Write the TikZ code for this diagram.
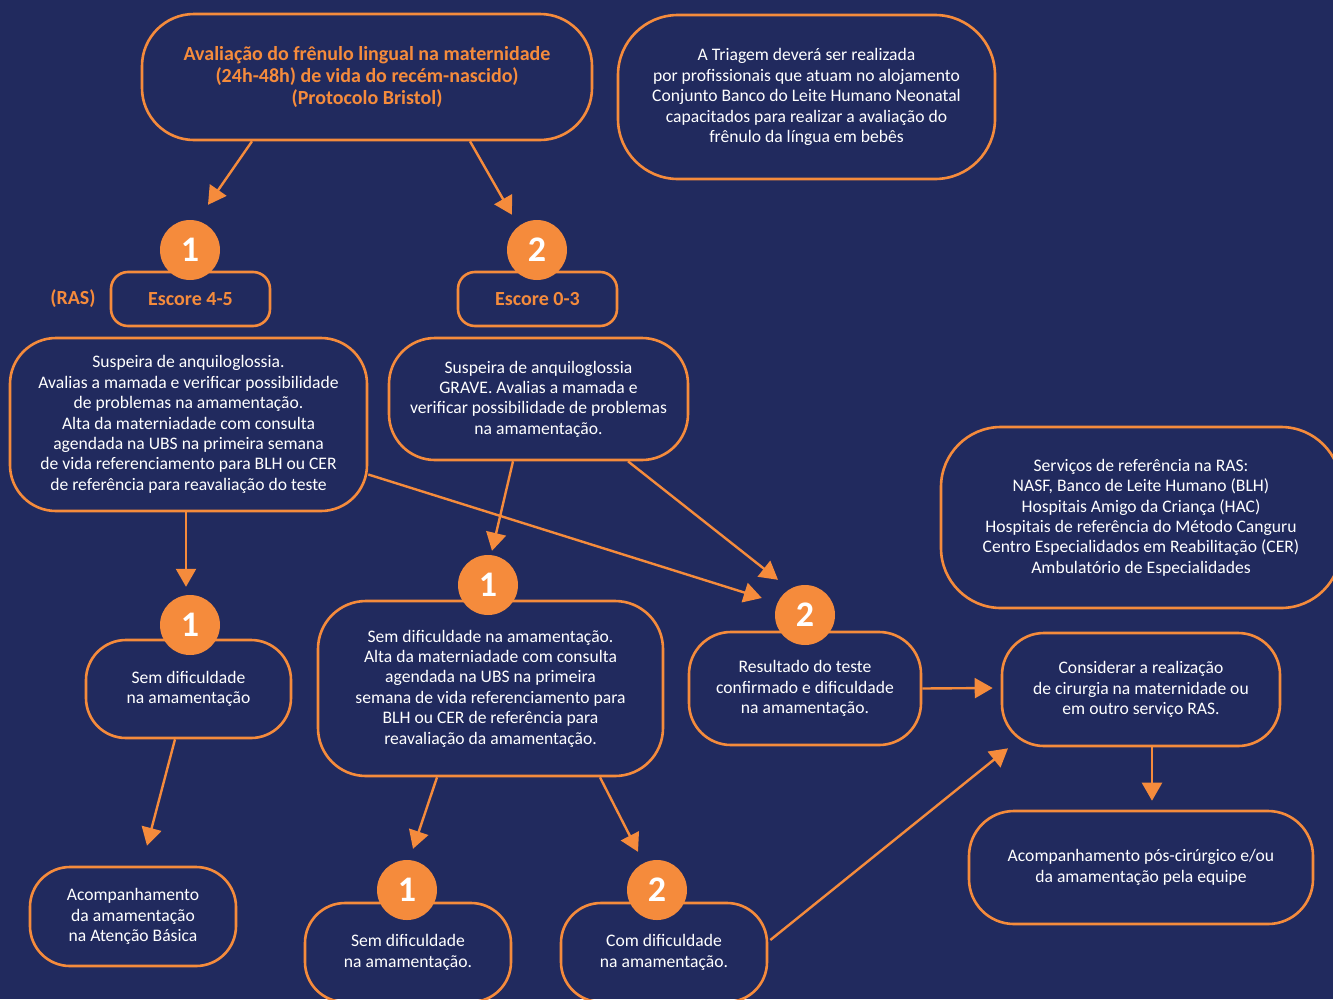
\documentclass[tikz,border=0pt]{standalone}
\usepackage{fontspec}
\setmainfont{Carlito}
\usetikzlibrary{arrows.meta,calc}
\definecolor{navy}{RGB}{33,42,94}
\definecolor{org}{RGB}{245,139,60}
\tikzset{
  box/.style={draw=org, line width=2.6pt, align=center, text=white,
    font=\fontsize{17.6}{20.4}\selectfont, inner sep=0pt},
  tbox/.style={box, text=org, font=\bfseries\fontsize{20}{21.6}\selectfont},
  num/.style={circle, fill=org, minimum size=60pt, inner sep=0pt, text=white,
    font=\bfseries\fontsize{36}{36}\selectfont},
  arr/.style={draw=org, line width=2.4pt, -{Triangle[length=18pt,width=20pt]}},
}
\begin{document}
\begin{tikzpicture}[x=1pt,y=-1pt]
\useasboundingbox (0,0) rectangle (1333,999);
\fill[navy] (0,0) rectangle (1333,999);
\clip (0,0) rectangle (1333,999);

% boxes
\node[tbox, rounded corners=52pt, minimum width=450pt, minimum height=126pt] (top) at (367,77)
  {Avaliação do frênulo lingual na maternidade\\(24h-48h) de vida do recém-nascido)\\(Protocolo Bristol)};
\node[box, rounded corners=60pt, minimum width=377pt, minimum height=164pt] (tri) at (806.5,97)
  {A Triagem deverá ser realizada\\por profissionais que atuam no alojamento\\Conjunto Banco do Leite Humano Neonatal\\capacitados para realizar a avaliação do\\frênulo da língua em bebês};
\node[tbox, rounded corners=17pt, minimum width=159pt, minimum height=54pt] (esc1) at (190.5,299) {Escore 4-5};
\node[tbox, rounded corners=17pt, minimum width=159pt, minimum height=54pt] (esc2) at (537.5,299) {Escore 0-3};
\node[text=org, font=\bfseries\fontsize{20}{21.6}\selectfont] (ras) at (73,299) {(RAS)};
\node[box, rounded corners=46pt, minimum width=357pt, minimum height=173pt] (left) at (188.5,424.5)
  {Suspeira de anquiloglossia.\\Avalias a mamada e verificar possibilidade\\de problemas na amamentação.\\Alta da materniadade com consulta\\agendada na UBS na primeira semana\\de vida referenciamento para BLH ou CER\\de referência para reavaliação do teste};
\node[box, rounded corners=46pt, minimum width=299pt, minimum height=122pt] (mid) at (538.5,399)
  {Suspeira de anquiloglossia\\GRAVE. Avalias a mamada e\\verificar possibilidade de problemas\\na amamentação.};
\node[box, rounded corners=40pt, minimum width=205pt, minimum height=98pt] (sem1) at (188.5,689)
  {Sem dificuldade\\na amamentação};
\node[box, rounded corners=48pt, minimum width=345pt, minimum height=175pt] (semmid) at (490.5,688.5)
  {Sem dificuldade na amamentação.\\Alta da materniadade com consulta\\agendada na UBS na primeira\\semana de vida referenciamento para\\BLH ou CER de referência para\\reavaliação da amamentação.};
\node[box, rounded corners=42pt, minimum width=232pt, minimum height=113pt] (res) at (805,688.5)
  {Resultado do teste\\confirmado e dificuldade\\na amamentação.};
\node[box, rounded corners=60pt, minimum width=400pt, minimum height=181pt] (serv) at (1141,517.5)
  {Serviços de referência na RAS:\\NASF, Banco de Leite Humano (BLH)\\Hospitais Amigo da Criança (HAC)\\Hospitais de referência do Método Canguru\\Centro Especialidados em Reabilitação (CER)\\Ambulatório de Especialidades};
\node[box, rounded corners=42pt, minimum width=278pt, minimum height=113pt] (cons) at (1141,689.5)
  {Considerar a realização\\de cirurgia na maternidade ou\\em outro serviço RAS.};
\node[box, rounded corners=45pt, minimum width=344pt, minimum height=113pt] (pos) at (1141,867.5)
  {Acompanhamento pós-cirúrgico e/ou\\da amamentação pela equipe};
\node[box, rounded corners=40pt, minimum width=206pt, minimum height=99pt] (acomp) at (133,916.5)
  {Acompanhamento\\da amamentação\\na Atenção Básica};
\node[box, rounded corners=40pt, minimum width=206pt, minimum height=99pt] (b1) at (408,952.5)
  {Sem dificuldade\\na amamentação.};
\node[box, rounded corners=40pt, minimum width=206pt, minimum height=99pt] (b2) at (664,952.5)
  {Com dificuldade\\na amamentação.};

% number circles
\node[num] (c1a) at (190,250) {1};
\node[num] (c2a) at (537,250) {2};
\node[num] (c1b) at (190,625) {1};
\node[num] (c1c) at (488,585) {1};
\node[num] (c2b) at (805,615) {2};
\node[num] (c1d) at (407,890) {1};
\node[num] (c2d) at (657,890) {2};

% arrows
\draw[arr] ($(top.south)+(-115,0)$) -- ($(c1a.north)+(18,-15)$);
\draw[arr] ($(top.south)+(103,0)$) -- ($(c2a.north)+(-25,-5)$);
\draw[arr] ($(left.south)+(-2.5,0)$) -- ($(c1b.north)+(-4,-8)$);
\draw[arr] ($(mid.south)+(-25.5,0)$) -- ($(c1c.north)+(4,-4)$);
\draw[arr] ($(mid.south)+(89.5,0)$) -- ($(c2b.north)+(-27,-5)$);
\draw[arr] ($(left.east)+(0,50)$) -- ($(c2b.west)+(-13,-17)$);
\draw[arr] ($(sem1.south)+(-13.5,0)$) -- ($(acomp.north)+(14,-20)$);
\draw[arr] ($(semmid.south)+(-53.5,0)$) -- ($(c1d.north)+(6,-11)$);
\draw[arr] ($(semmid.south)+(109.5,0)$) -- ($(c2d.north)+(-19,-8)$);
\draw[arr] (res.east) -- ($(cons.west)+(-8,-1.5)$);
\draw[arr] ($(b2.east)+(2,-12.5)$) -- ($(cons.south)+(-133,1)$);
\draw[arr] ($(cons.south)+(11,0)$) -- ($(pos.north)+(11,-9)$);
\end{tikzpicture}
\end{document}
